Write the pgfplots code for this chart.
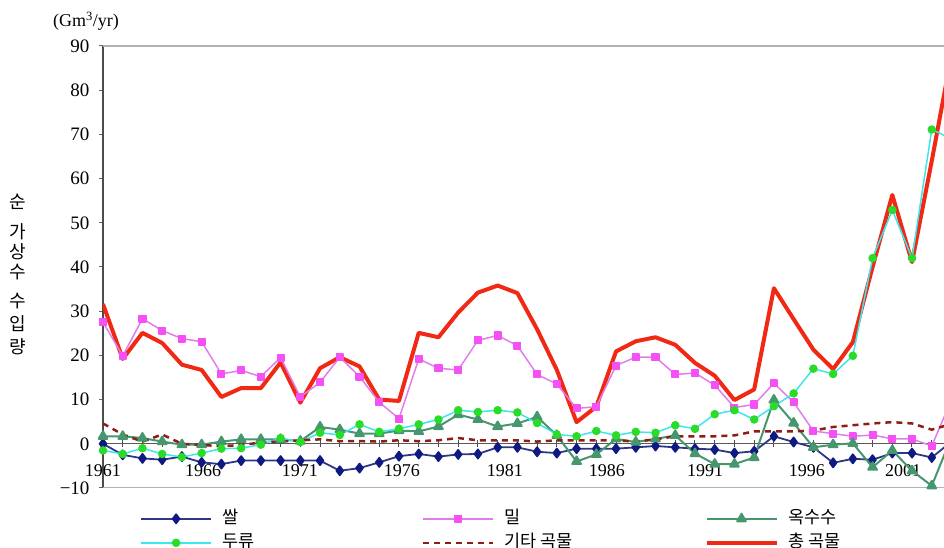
\documentclass[border=0pt]{standalone}
\usepackage{pgfplots}
\pgfplotsset{compat=1.18}
\usepackage{pgfplotstable}
\usepackage{fontspec}
\setmainfont{Liberation Serif}
\newfontfamily\kr{Noto Sans CJK KR}

\definecolor{riceL}{RGB}{45,55,135}
\definecolor{riceM}{RGB}{15,25,130}
\definecolor{wheatL}{RGB}{225,125,235}
\definecolor{wheatM}{RGB}{245,80,245}
\definecolor{maize}{RGB}{70,150,110}
\definecolor{soyL}{RGB}{60,230,235}
\definecolor{soyM}{RGB}{40,220,40}
\definecolor{other}{RGB}{140,30,20}
\definecolor{total}{RGB}{240,40,20}

\pgfplotstableread{
year rice wheat maize soy other total
1961 0.0 27.5 1.7 -1.5 4.6 31.6
1962 -2.5 19.9 1.7 -2.3 2.1 19.2
1963 -3.3 28.3 1.3 -1.0 0.5 25.1
1964 -3.6 25.6 0.5 -2.3 2.1 22.8
1965 -2.9 23.8 -0.2 -3.0 0.0 17.9
1966 -4.2 23.1 -0.2 -2.1 -0.3 16.7
1967 -4.6 15.8 0.5 -1.1 -0.5 10.6
1968 -3.8 16.6 1.0 -1.0 -0.3 12.6
1969 -3.8 15.2 1.0 -0.2 0.3 12.6
1970 -3.8 19.5 1.0 1.3 0.5 18.4
1971 -3.8 10.6 0.6 0.4 0.8 9.3
1972 -3.8 13.9 3.8 2.5 1.0 17.1
1973 -6.1 19.6 3.2 2.0 0.6 19.6
1974 -5.5 15.2 2.3 4.4 0.6 17.5
1975 -4.2 9.4 2.3 2.7 0.5 10.0
1976 -2.8 5.7 3.0 3.4 0.8 9.7
1977 -2.3 19.2 2.8 4.4 0.6 25.1
1978 -2.9 17.1 3.9 5.5 0.8 24.1
1979 -2.4 16.7 6.6 7.6 1.3 29.7
1980 -2.3 23.4 5.5 7.2 0.8 34.2
1981 -0.8 24.5 3.9 7.6 0.8 35.8
1982 -0.8 22.2 4.6 7.1 0.8 34.1
1983 -1.8 15.7 6.1 4.7 0.5 25.9
1984 -2.1 13.5 1.9 2.1 0.8 16.7
1985 -1.1 8.0 -4.0 1.7 0.8 4.9
1986 -1.1 8.4 -2.4 2.9 0.8 8.4
1987 -1.1 17.7 1.1 1.9 0.8 20.9
1988 -0.8 19.6 0.4 2.7 0.5 23.2
1989 -0.5 19.6 1.1 2.5 1.0 24.1
1990 -0.8 15.7 1.9 4.2 1.7 22.4
1991 -1.1 16.0 -2.2 3.4 1.7 18.3
1992 -1.3 13.3 -4.6 6.7 1.7 15.4
1993 -2.1 8.2 -4.6 7.6 1.9 9.9
1994 -1.7 8.9 -3.1 5.5 2.8 12.3
1995 1.7 13.7 9.9 8.5 2.8 35.2
1996 0.4 9.4 4.7 11.4 2.8 28.2
1997 -0.8 2.9 -0.8 17.0 3.0 21.3
1998 -4.3 2.3 -0.2 15.8 3.8 16.9
1999 -3.4 1.7 0.1 19.9 4.2 23.0
2000 -3.6 2.0 -5.3 42.0 4.6 40.0
2001 -2.1 1.1 -1.5 52.9 4.9 56.3
2002 -2.1 1.1 -6.1 42.0 4.6 41.1
2003 -3.1 -0.5 -9.5 71.1 3.2 64.0
2004 0.5 10.0 1.5 69.0 4.5 88.0
}\datatable

\begin{document}
\begin{tikzpicture}
\useasboundingbox (-103pt,-60pt) rectangle (841pt,488pt);
\begin{axis}[
  scale only axis, width=841pt, height=442pt,
  xmin=1961, xmax=2003.62, ymin=-10, ymax=90,
  axis x line*=middle, axis y line*=left,
  hide obscured x ticks=false,
  x axis line style={black!65, line width=1.3pt},
  y axis line style={black!70, line width=1.6pt},
  xtick={1961,1966.07,1970.98,1976.14,1981.37,1986.53,1991.51,1996.67,2001.55},
  xticklabels={1961,1966,1971,1976,1981,1986,1991,1996,2001},
  major x tick style={draw=none},
  minor xtick={1961,1962,...,2003},
  minor x tick style={black!70, line width=1pt},
  minor tick length=7pt,
  xtick align=center,
  ytick={-10,0,...,90},
  yticklabels={−10,0,10,20,30,40,50,60,70,80,90},
  ytick align=outside,
  major tick length=4pt,
  y tick style={black!60, line width=1pt},
  xticklabel style={font=\fontsize{18}{20}\selectfont, anchor=north, yshift=-15pt},
  yticklabel style={font=\fontsize{19}{21}\selectfont, xshift=-6pt},
  clip=true,
  legend columns=3,
  legend cell align=left,
  legend style={at={(0.044,-0.05)}, anchor=north west, draw=none, fill=none,
    inner sep=0pt, row sep=7pt,
    /tikz/every odd column/.append style={column sep=10pt},
    /tikz/every even column/.append style={column sep=0pt},
    nodes={inner sep=0pt, text height=13pt, text depth=4pt, font=\kr\fontsize{17.5}{20}\selectfont}},
  legend image code/.code={\draw[mark repeat=2,mark phase=2] plot coordinates {(0pt,0pt) (35pt,0pt) (70pt,0pt)};},
]
\draw[black!30, line width=1.2pt] (rel axis cs:0,1) -- (rel axis cs:1,1);
\draw[black!30, line width=1.2pt] (rel axis cs:0,0) -- (rel axis cs:1,0);

\addplot[total, line width=4pt, line join=round, forget plot] table[x=year, y=total] {\datatable};
\addplot[riceL, line width=1.8pt, line join=round, mark=diamond*, mark size=4.5pt, mark options={fill=riceM, draw=riceM, solid}] table[x=year, y=rice] {\datatable};
\addlegendentry{\makebox[200pt][l]{쌀}}
\addplot[wheatL, line width=1.5pt, line join=round, mark=square*, mark size=3.3pt, mark options={fill=wheatM, draw=wheatM, solid}] table[x=year, y=wheat] {\datatable};
\addlegendentry{\makebox[200pt][l]{밀}}
\addplot[maize, line width=2pt, line join=round, mark=triangle*, mark size=5pt, mark options={fill=maize, draw=maize, solid}] table[x=year, y=maize] {\datatable};
\addlegendentry{\makebox[200pt][l]{옥수수}}
\addplot[soyL, line width=1.5pt, line join=round, mark=*, mark size=3.5pt, mark options={fill=soyM, draw=soyM, solid}] table[x=year, y=soy] {\datatable};
\addlegendentry{\makebox[200pt][l]{두류}}
\addplot[other, line width=2.5pt, dash pattern=on 6pt off 5pt] table[x=year, y=other] {\datatable};
\addlegendentry{\makebox[200pt][l]{기타 곡물}}
\addlegendimage{total, line width=4pt}
\addlegendentry{\makebox[200pt][l]{총 곡물}}
\end{axis}
\node[font=\fontsize{18}{20}\selectfont] at (-17pt,467pt) {(Gm\textsuperscript{3}/yr)};
\begin{scope}[every node/.style={font=\kr\fontsize{18}{18}\selectfont}]
\node at (-85pt,286pt) {순};
\node at (-85pt,256pt) {가};
\node at (-85pt,236pt) {상};
\node at (-85pt,216pt) {수};
\node at (-85pt,187pt) {수};
\node at (-85pt,164pt) {입};
\node at (-85pt,141pt) {량};
\end{scope}
\end{tikzpicture}
\end{document}
